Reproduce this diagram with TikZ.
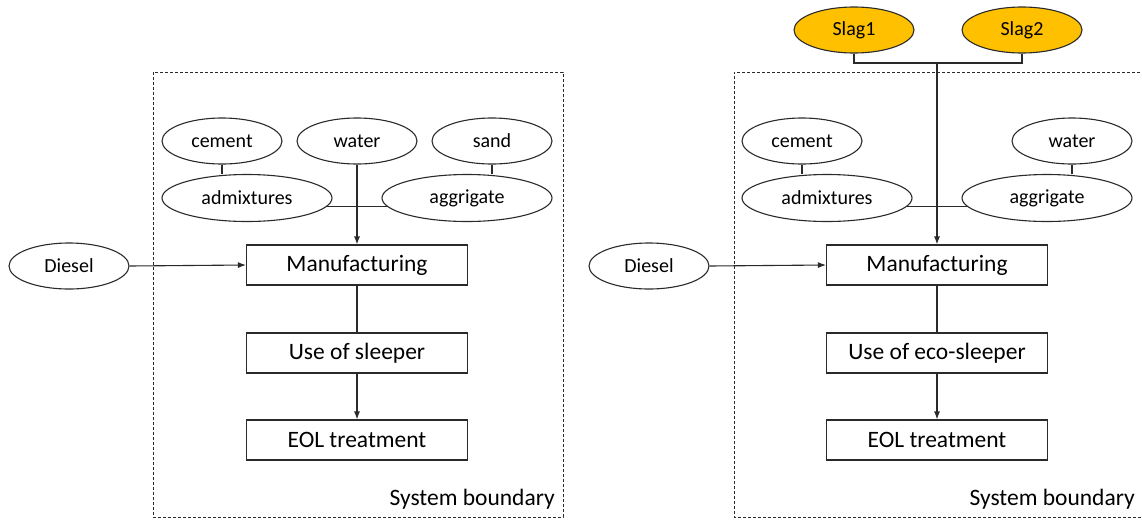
\documentclass[tikz,border=0pt]{standalone}
\usepackage{fontspec}
\setmainfont{Carlito}
\usetikzlibrary{shapes.geometric,arrows.meta}
\definecolor{slagfill}{HTML}{FFC000}
\definecolor{linegray}{HTML}{2A2A2A}
\begin{document}
\begin{tikzpicture}[x=1pt,y=-1pt,
  oval/.style={ellipse,draw=linegray,line width=1.1pt,minimum width=120pt,minimum height=46pt,inner sep=0pt,font=\fontsize{20}{24}\selectfont},
  wideoval/.style={oval,minimum width=170pt,minimum height=47pt},
  slag/.style={oval,fill=slagfill},
  stepbox/.style={rectangle,draw=linegray,line width=1.1pt,minimum width=221pt,minimum height=40pt,inner sep=0pt,font=\fontsize{23.5}{27}\selectfont},
  conn/.style={draw=linegray,line width=1.1pt},
  arr/.style={conn,-{Latex[length=8pt,width=6pt]}},
  bound/.style={draw=linegray,line width=0.9pt,dash pattern=on 3pt off 2pt},
  btext/.style={font=\fontsize{23.5}{27}\selectfont,anchor=south east,inner sep=0pt}
]
\useasboundingbox (0,0) rectangle (1142,520);

% ---------- left ----------
\draw[bound] (153,72) rectangle (563,517);
\node[btext] (sb1) at (555,509) {System boundary};

\node[oval] (cem1) at (222,141) {cement};
\node[oval] (wat1) at (357,141) {water};
\node[oval] (sand1) at (492,141) {sand};
\node[wideoval] (adm1) at (247,198) {admixtures};
\node[wideoval] (agg1) at (467,198) {aggrigate};
\node[oval] (die1) at (69,266) {Diesel};

\node[stepbox] (man1) at (357,265) {Manufacturing};
\node[stepbox] (use1) at (357,353) {Use of sleeper};
\node[stepbox] (eol1) at (357,440) {EOL treatment};

\draw[conn] (cem1.south) -- (cem1.south |- adm1.north);
\draw[conn] (sand1.south) -- (sand1.south |- agg1.north);
\draw[conn] (adm1.-6) -- (agg1.186);
\draw[arr] (wat1.south) -- (man1.north);
\draw[arr] (die1.east) -- (man1.west);
\draw[conn] (man1.south) -- (use1.north);
\draw[arr] (use1.south) -- (eol1.north);

% ---------- right ----------
\draw[bound] (1145,72) -- (734,72) -- (734,517) -- (1145,517);
\node[btext] (sb2) at (1135,509) {System boundary};

\node[slag] (slag1) at (854,30) {Slag1};
\node[slag] (slag2) at (1022,30) {Slag2};
\coordinate (jn) at (937,63);

\node[oval] (cem2) at (802,141) {cement};
\node[oval] (wat2) at (1072,141) {water};
\node[wideoval] (adm2) at (827,198) {admixtures};
\node[wideoval] (agg2) at (1047,198) {aggrigate};
\node[oval] (die2) at (649,266) {Diesel};

\node[stepbox] (man2) at (937,265) {Manufacturing};
\node[stepbox] (use2) at (937,353) {Use of eco-sleeper};
\node[stepbox] (eol2) at (937,440) {EOL treatment};

\draw[conn] (slag1.south) |- (jn) -| (slag2.south);
\draw[arr] (jn) -- (man2.north);
\draw[conn] (cem2.south) -- (cem2.south |- adm2.north);
\draw[conn] (wat2.south) -- (wat2.south |- agg2.north);
\draw[conn] (adm2.-6) -- (agg2.186);
\draw[arr] (die2.east) -- (man2.west);
\draw[conn] (man2.south) -- (use2.north);
\draw[arr] (use2.south) -- (eol2.north);
\end{tikzpicture}
\end{document}
